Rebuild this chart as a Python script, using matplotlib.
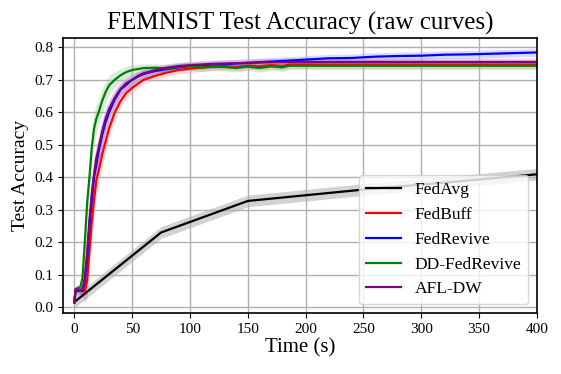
import matplotlib
matplotlib.use("Agg")
import matplotlib.pyplot as plt
import numpy as np

plt.rcParams['font.family'] = ['Liberation Serif', 'DejaVu Serif']

# common time grid for the fast curves (s)
t_fast = [0, 1, 3, 5, 7, 9, 11, 13, 15, 17, 19, 21, 24, 27, 30, 35, 40, 45, 50, 55,
          60, 70, 80, 90, 100, 110, 120, 130, 140, 150, 160, 170, 180, 186]

acc_dd = [0.015, 0.055, 0.060, 0.060, 0.090, 0.200, 0.320, 0.400, 0.490, 0.550, 0.580, 0.600,
          0.635, 0.662, 0.683, 0.700, 0.714, 0.724, 0.730, 0.733, 0.736, 0.737, 0.735, 0.740,
          0.742, 0.737, 0.741, 0.739, 0.736, 0.740, 0.736, 0.741, 0.738, 0.743]
acc_buff = [0.015, 0.050, 0.050, 0.050, 0.050, 0.050, 0.080, 0.170, 0.260, 0.330, 0.390, 0.420,
            0.470, 0.510, 0.550, 0.600, 0.635, 0.660, 0.675, 0.688, 0.700, 0.712, 0.722, 0.730,
            0.734, 0.738, 0.740, 0.742, 0.739, 0.744, 0.741, 0.745, 0.742, 0.747]
acc_afl = [0.015, 0.055, 0.055, 0.050, 0.055, 0.090, 0.170, 0.270, 0.350, 0.410, 0.460, 0.490,
           0.540, 0.580, 0.610, 0.645, 0.672, 0.690, 0.700, 0.712, 0.720, 0.730, 0.737, 0.742,
           0.745, 0.747, 0.749, 0.750, 0.751, 0.752, 0.753, 0.754, 0.754, 0.755]
spread = [0.004, 0.01, 0.01, 0.01, 0.02, 0.04, 0.05, 0.05, 0.05, 0.05, 0.045, 0.04,
          0.04, 0.035, 0.03, 0.025, 0.02, 0.018, 0.016, 0.014, 0.013, 0.012, 0.012, 0.012,
          0.012, 0.012, 0.012, 0.012, 0.012, 0.012, 0.012, 0.012, 0.012, 0.012]

# FedRevive keeps going until 400 s
t_rev = t_fast + [200, 220, 240, 260, 280, 300, 320, 340, 360, 380, 400]
acc_rev = [0.015, 0.050, 0.050, 0.050, 0.050, 0.080, 0.150, 0.250, 0.330, 0.400, 0.440, 0.480,
           0.530, 0.570, 0.600, 0.640, 0.670, 0.685, 0.700, 0.710, 0.718, 0.727, 0.733, 0.738,
           0.742, 0.745, 0.747, 0.748, 0.750, 0.752, 0.754, 0.756, 0.758, 0.759,
           0.762, 0.766, 0.767, 0.771, 0.773, 0.774, 0.777, 0.778, 0.780, 0.782, 0.784]

# FedAvg evaluated sparsely
t_avg = [0, 75, 150, 250, 325, 400]
acc_avg = [0.016, 0.230, 0.327, 0.362, 0.385, 0.409]

t_end = 400

fig = plt.figure(figsize=(5.61, 3.74), dpi=100)
ax = fig.add_axes([0.112, 0.163, 0.845, 0.735])

def draw(t, y, s, color, label, pad=False):
    t = list(t)
    y = list(y)
    s = list(s)
    if pad:
        t = t + [t_end]
        y = y + [y[-1]]
        s = s + [s[-1]]
    t, y, s = np.array(t), np.array(y), np.array(s)
    ax.fill_between(t, y - s, y + s, color=color, alpha=0.15, linewidth=0)
    ax.plot(t, y, color=color, lw=1.6, label=label)

ax.fill_between(t_avg, np.array(acc_avg) - 0.018, np.array(acc_avg) + 0.018,
                color='grey', alpha=0.35, linewidth=0)
ax.plot(t_avg, acc_avg, color='black', lw=1.6, label='FedAvg')
draw(t_fast, acc_buff, spread, 'red', 'FedBuff', pad=True)
draw(t_rev, acc_rev, spread + [0.012] * 11, 'blue', 'FedRevive')
draw(t_fast, acc_dd, spread, 'green', 'DD-FedRevive', pad=True)
draw(t_fast, acc_afl, spread, 'purple', 'AFL-DW', pad=True)

ax.set_xlim(-10, 400)
ax.set_ylim(-0.018, 0.828)
ax.set_xticks([0, 50, 100, 150, 200, 250, 300, 350, 400])
ax.set_yticks(np.arange(0, 0.81, 0.1))
ax.set_yticklabels([f"{v:.1f}" for v in np.arange(0, 0.81, 0.1)])
ax.tick_params(labelsize=11)
ax.grid(True, color='#b0b0b0', lw=1.0)
for sp in ax.spines.values():
    sp.set_linewidth(1.2)

ax.set_title("FEMNIST Test Accuracy (raw curves)", fontsize=18)
ax.set_xlabel("Time (s)", fontsize=15, labelpad=2)
ax.set_ylabel("Test Accuracy", fontsize=14, labelpad=4)
ax.legend(loc='lower right', fontsize=12.5)

fig.savefig("out.png", dpi=100)
